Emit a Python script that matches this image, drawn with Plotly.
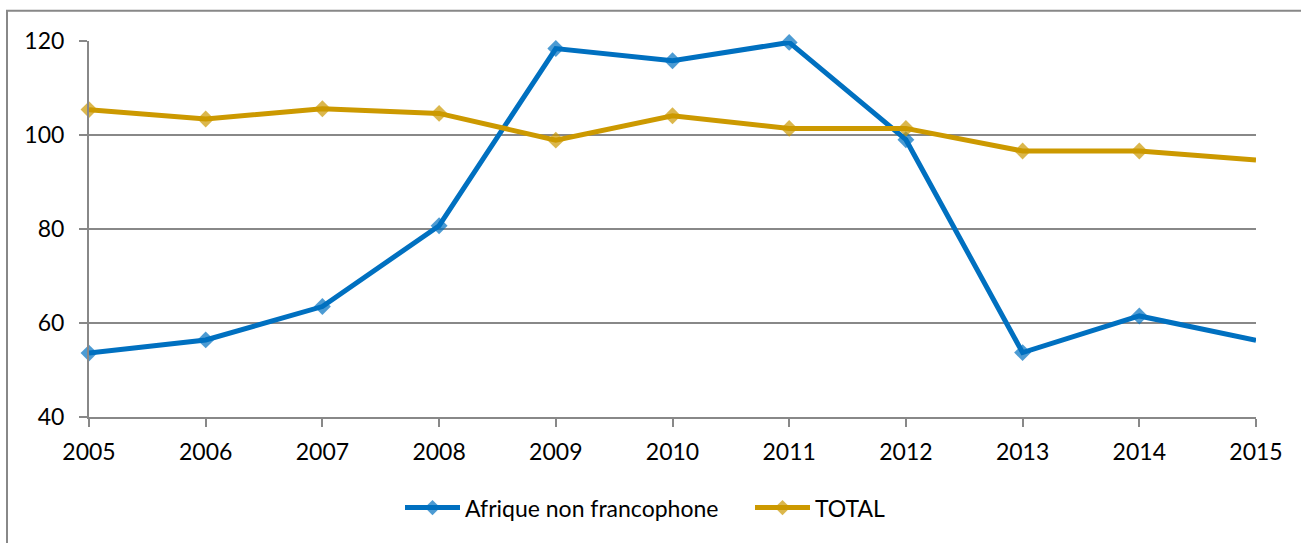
import plotly.graph_objects as go

years = [2005, 2006, 2007, 2008, 2009, 2010, 2011, 2012, 2013, 2014, 2015]
afrique_non_francophone = [53.6, 56.4, 63.5, 80.7, 118.4, 115.8, 119.7, 99.0, 53.7, 61.5, 56.3]
total = [105.4, 103.4, 105.6, 104.6, 98.9, 104.1, 101.4, 101.4, 96.6, 96.6, 94.7]
y_ticks = [40, 60, 80, 100, 120]

BLUE = "#0070C0"
GOLD = "#CC9900"
GRID = "#888888"
FONT = "Lato"

sizes = [13] * (len(years) - 1) + [0]

fig = go.Figure()
fig.add_trace(go.Scatter(
    x=years, y=afrique_non_francophone, name="Afrique non francophone",
    mode="lines+markers",
    line=dict(color=BLUE, width=5),
    marker=dict(symbol="diamond", size=sizes, color=BLUE, line=dict(width=0)),
    cliponaxis=False,
))
fig.add_trace(go.Scatter(
    x=years, y=total, name="TOTAL",
    mode="lines+markers",
    line=dict(color=GOLD, width=5),
    marker=dict(symbol="diamond", size=sizes, color=GOLD, line=dict(width=0)),
    cliponaxis=False,
))

fig.update_layout(
    width=1301, height=543,
    margin=dict(l=89, r=45, t=41, b=126),
    paper_bgcolor="white", plot_bgcolor="white",
    font=dict(family=FONT, size=23, color="black"),
    showlegend=True,
    hovermode=False,
    legend=dict(
        orientation="h", x=(400 - 89) / 1167, xanchor="left", y=-0.241, yanchor="middle",
        font=dict(family=FONT, size=23, color="black"),
        itemwidth=55, traceorder="normal",
        entrywidth=280, entrywidthmode="pixels",
    ),
    shapes=[dict(
        type="rect", xref="paper", yref="paper",
        x0=-82 / 1167, x1=1.05, y0=-0.5, y1=(417.3 - 10.5) / 376.6,
        line=dict(color=GRID, width=2), fillcolor="rgba(0,0,0,0)", layer="below",
    )],
)

fig.update_xaxes(
    range=[2005, 2015], tickmode="array", tickvals=years,
    ticktext=[str(y) for y in years],
    showgrid=False, showline=True, linecolor=GRID, linewidth=2,
    ticks="outside", ticklen=8, tickcolor=GRID, tickwidth=2,
    ticklabelstandoff=5, zeroline=False,
)
fig.update_yaxes(
    range=[40, 120], tickmode="array", tickvals=y_ticks,
    showgrid=True, gridcolor=GRID, gridwidth=2,
    showline=True, linecolor=GRID, linewidth=2,
    ticks="outside", ticklen=8, tickcolor=GRID, tickwidth=2,
    ticklabelstandoff=10, zeroline=False,
)

fig.write_html(
    "out.html",
    config={"displayModeBar": False, "staticPlot": True},
    post_script="document.body.style.margin='0';document.body.style.overflow='hidden';",
)
